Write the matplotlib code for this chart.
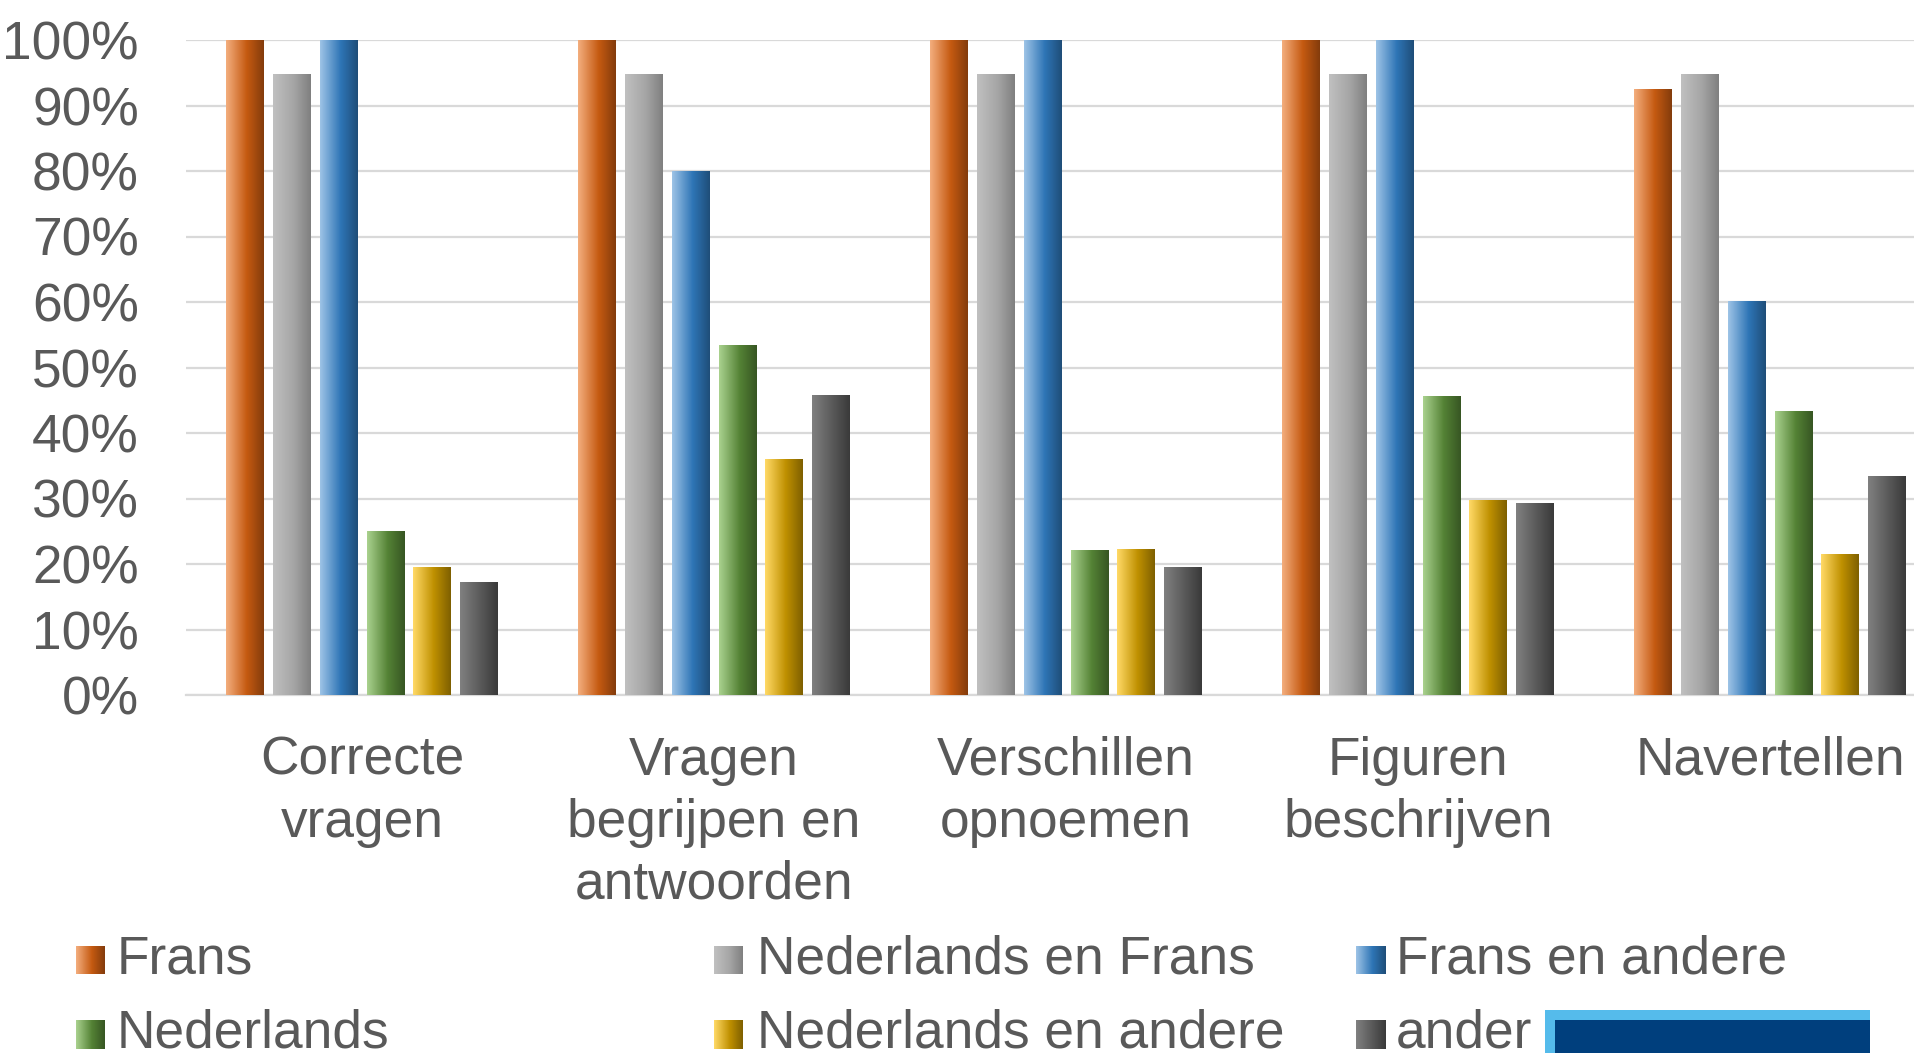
import matplotlib
matplotlib.use('Agg')
import matplotlib.pyplot as plt
import numpy as np
from matplotlib.colors import LinearSegmentedColormap
from matplotlib.patches import Rectangle

# Data
categories = ['Correcte\nvragen', 'Vragen\nbegrijpen en\nantwoorden', 'Verschillen\nopnoemen',
              'Figuren\nbeschrijven', 'Navertellen']
series = ['Frans', 'Nederlands en Frans', 'Frans en andere',
          'Nederlands', 'Nederlands en andere', 'ander']
frans = [100, 100, 100, 100, 92.4]
nl_frans = [94.7, 94.7, 94.7, 94.7, 94.7]
frans_andere = [100, 80.0, 100, 100, 60.1]
nederlands = [24.9, 53.4, 22.0, 45.5, 43.3]
nl_andere = [19.4, 36.0, 22.2, 29.7, 21.5]
ander = [17.2, 45.7, 19.4, 29.3, 33.4]
values = [frans, nl_frans, frans_andere, nederlands, nl_andere, ander]
yticks = np.arange(0, 101, 10)

# Gradient colours (light, mid, dark)
grads = [('#F3AD7D', '#C55A11', '#843C0C'),
         ('#C0C0C0', '#A5A5A5', '#808080'),
         ('#9DC3E6', '#2E75B6', '#1F4E79'),
         ('#A9D18E', '#548235', '#375623'),
         ('#FFD966', '#BF9000', '#7F6000'),
         ('#808080', '#595959', '#3A3A3A')]
cmaps = [LinearSegmentedColormap.from_list('g%d' % i, [(0, c[0]), (0.55, c[1]), (1, c[2])])
         for i, c in enumerate(grads)]
grad_img = np.linspace(0, 1, 64).reshape(1, -1)

txt_color = '#595959'
fs = 38.3
plt.rcParams['font.family'] = ['Liberation Sans', 'DejaVu Sans']

W, H = 1915, 1053
fig = plt.figure(figsize=(W / 100, H / 100), dpi=100)
ax = fig.add_axes([186 / W, 1 - 695 / H, 1760 / W, 655 / H])

x = np.arange(len(categories))
pitch = 0.1333
width = 0.1076
for i, vals in enumerate(values):
    xs = x + (i - 2.5) * pitch
    bars = ax.bar(xs, vals, width, color='none', edgecolor='none')
    for b in bars:
        x0 = b.get_x()
        ax.imshow(grad_img, cmap=cmaps[i], aspect='auto', zorder=3,
                  extent=[x0, x0 + b.get_width(), 0, b.get_height()])

ax.set_xlim(-0.5, len(categories) - 0.5)
ax.set_ylim(0, 100)
ax.set_yticks(yticks)
ax.set_yticklabels(['%d%%' % t for t in yticks])
ax.set_xticks(x)
ax.set_xticklabels(categories, linespacing=1.3)
ax.tick_params(axis='both', length=0, labelsize=fs, labelcolor=txt_color)
ax.tick_params(axis='y', pad=34)
ax.tick_params(axis='x', pad=29.5)
ax.yaxis.grid(True, color='#D9D9D9', linewidth=1.6)
ax.set_axisbelow(True)
for s in ['top', 'right', 'left']:
    ax.spines[s].set_visible(False)
ax.spines['bottom'].set_color('#D9D9D9')
ax.spines['bottom'].set_linewidth(1.6)

# Legend (Excel style, equal columns)
col_marker = [76, 714, 1356]
col_text = [117, 757, 1396]
row_y = [960, 1034]
msize = 29
for i, name in enumerate(series):
    c, r = i % 3, i // 3
    max_ = fig.add_axes([col_marker[c] / W, 1 - (row_y[r] + msize / 2) / H, msize / W, msize / H])
    max_.imshow(grad_img, cmap=cmaps[i], aspect='auto')
    max_.axis('off')
    fig.text(col_text[c] / W, 1 - row_y[r] / H, name, fontsize=fs, color=txt_color,
             va='center', ha='left')

# blue box at bottom right
fig.patches.append(Rectangle((1545 / W, 0), 325 / W, 43 / H, transform=fig.transFigure,
                             facecolor='#55BBEB', edgecolor='none'))
fig.patches.append(Rectangle((1555 / W, 0), 315 / W, 33 / H, transform=fig.transFigure,
                             facecolor='#003F7D', edgecolor='none'))

fig.savefig('out.png', dpi=100)
